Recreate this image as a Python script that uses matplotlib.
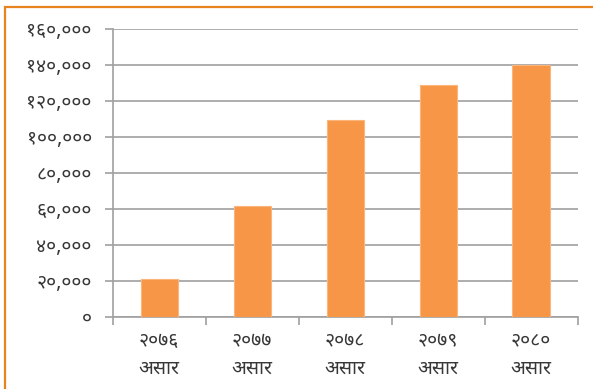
import matplotlib
matplotlib.use("Agg")
import matplotlib.pyplot as plt
from matplotlib.patches import Rectangle
from matplotlib.ticker import FuncFormatter

# Data
years = ["२०७६", "२०७७", "२०७८", "२०७९", "२०८०"]
month = "असार"
values = [21000, 61500, 109500, 128700, 140000]
yticks = [0, 20000, 40000, 60000, 80000, 100000, 120000, 140000, 160000]

plt.rcParams["font.family"] = ["Noto Sans Devanagari", "Hind", "Mukta", "DejaVu Sans"]

DIGITS = str.maketrans("0123456789", "०१२३४५६७८९")


def nepali(v, pos=None):
    return f"{int(v):,}".translate(DIGITS)


fig = plt.figure(figsize=(5.93, 3.89), dpi=100)
ax = fig.add_axes([0.190, 0.186, 0.784, 0.740])

grid_c = "#A0A0A0"
bar_c = "#F79646"
txt_c = "#383838"

x = list(range(len(values)))
ax.bar(x, values, width=0.4, color=bar_c, edgecolor="#FBB47A", linewidth=0.8, zorder=3)

ax.set_xlim(-0.5, len(values) - 0.5)
ax.set_ylim(0, 160000)
ax.set_yticks(yticks)
ax.yaxis.set_major_formatter(FuncFormatter(nepali))
ax.yaxis.grid(True, color=grid_c, linewidth=1.2, zorder=0)

# ticks on the category boundaries, labels in the middle
ax.set_xticks([i - 0.5 for i in range(len(values) + 1)])
ax.set_xticklabels([])
ax.set_xticks(x, minor=True)
ax.set_xticklabels([f"{y}\n{month}" for y in years], minor=True)
ax.tick_params(axis="x", which="minor", length=0, pad=10, labelsize=14,
               labelcolor=txt_c)
ax.tick_params(axis="x", which="major", length=6, color=grid_c, width=1.2)
ax.tick_params(axis="y", length=6, color=grid_c, width=1.2, pad=9,
               labelsize=14, labelcolor=txt_c)
for lab in ax.get_xticklabels(minor=True):
    lab.set_linespacing(1.55)

for s in ["top", "right"]:
    ax.spines[s].set_visible(False)
ax.spines["left"].set_color(grid_c)
ax.spines["bottom"].set_color(grid_c)
ax.spines["left"].set_linewidth(1.2)
ax.spines["bottom"].set_linewidth(1.2)

# orange frame, cut off at the right and bottom like in the reference
fig.patches.append(Rectangle((0.0076, -0.1), 1.2, 1.083, transform=fig.transFigure,
                             fill=False, edgecolor="#E8841E", linewidth=1.6))

fig.savefig("out.png", dpi=100)
